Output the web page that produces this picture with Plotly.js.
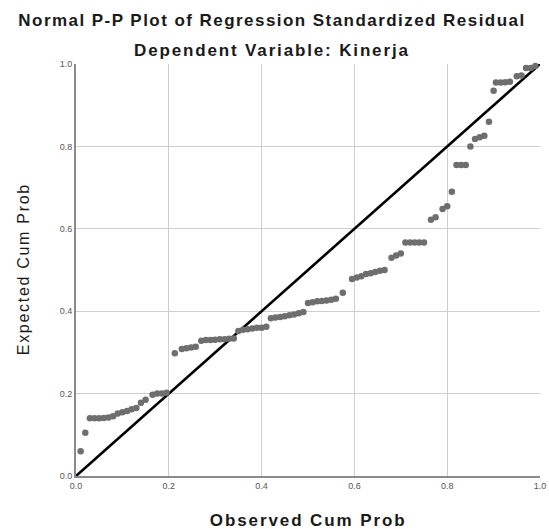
<!DOCTYPE html>
<html>
<head>
<meta charset="utf-8">
<script src="https://cdn.plot.ly/plotly-3.0.1.min.js"></script>
<style>
html,body{margin:0;padding:0;background:#fff;}
.gtitle{letter-spacing:1.45px;}
.annotation.subtitle-ann text{letter-spacing:1.85px;}
.annotation.xt-ann text{letter-spacing:1.9px;}
.annotation.yt-ann text{letter-spacing:1.7px;}
</style>
</head>
<body>
<div id="chart" style="width:549px;height:529px;"></div>
<script>
// Observed cumulative probability (x) and expected cumulative probability (y)
var observedCumProb = [
  0.01, 0.02,
  0.03, 0.04, 0.05, 0.06, 0.07, 0.08,
  0.09, 0.10, 0.11, 0.12, 0.13,
  0.14, 0.15,
  0.165, 0.175, 0.185, 0.195,
  0.213,
  0.228, 0.238, 0.248, 0.258,
  0.27, 0.28, 0.29, 0.30, 0.31, 0.32, 0.33, 0.34,
  0.35, 0.36, 0.37, 0.38, 0.39, 0.40, 0.41,
  0.42, 0.43, 0.44, 0.45, 0.46, 0.47, 0.48, 0.49,
  0.50, 0.51, 0.52, 0.53, 0.54, 0.55, 0.56,
  0.575,
  0.595, 0.605, 0.615, 0.625, 0.635, 0.645, 0.655, 0.665,
  0.68, 0.69, 0.70,
  0.71, 0.72, 0.73, 0.74, 0.75,
  0.765, 0.775,
  0.79, 0.80,
  0.81,
  0.82, 0.83, 0.84,
  0.85,
  0.86, 0.87, 0.88,
  0.89,
  0.90,
  0.905, 0.915, 0.925, 0.935,
  0.95, 0.96,
  0.97, 0.98, 0.99
];
var expectedCumProb = [
  0.06, 0.105,
  0.14, 0.14, 0.14, 0.141, 0.142, 0.145,
  0.152, 0.155, 0.158, 0.162, 0.165,
  0.178, 0.185,
  0.197, 0.2, 0.2, 0.202,
  0.298,
  0.308, 0.31, 0.312, 0.314,
  0.328, 0.33, 0.33, 0.331, 0.332, 0.332, 0.333, 0.334,
  0.352, 0.355, 0.356, 0.358, 0.36, 0.36, 0.362,
  0.383, 0.385, 0.386, 0.388, 0.39, 0.392, 0.395, 0.398,
  0.42, 0.422, 0.424, 0.425, 0.426, 0.428, 0.43,
  0.445,
  0.478, 0.482, 0.485, 0.49, 0.492, 0.495, 0.498, 0.50,
  0.53, 0.535, 0.54,
  0.567, 0.567, 0.567, 0.567, 0.567,
  0.622, 0.628,
  0.648, 0.655,
  0.69,
  0.755, 0.755, 0.755,
  0.80,
  0.818, 0.822, 0.826,
  0.86,
  0.935,
  0.955, 0.955, 0.956, 0.957,
  0.97, 0.972,
  0.99, 0.99, 0.995
];
var refLineX = [0, 1];
var refLineY = [0, 1];
var tickVals = [0, 0.2, 0.4, 0.6, 0.8, 1.0];
var tickText = ["0.0", "0.2", "0.4", "0.6", "0.8", "1.0"];

var font = "Liberation Sans, Arial, sans-serif";

var traces = [
  {
    x: refLineX, y: refLineY, type: "scatter", mode: "lines",
    line: {color: "#000000", width: 2.6},
    hoverinfo: "skip", showlegend: false, cliponaxis: false
  },
  {
    x: observedCumProb, y: expectedCumProb, type: "scatter", mode: "markers",
    marker: {symbol: "circle", size: 6.5, color: "#6e6e6e"},
    showlegend: false, cliponaxis: false
  }
];

var layout = {
  width: 549, height: 529,
  paper_bgcolor: "#ffffff", plot_bgcolor: "#ffffff",
  margin: {l: 76, r: 9, t: 64, b: 53, pad: 0},
  title: {
    text: "<b>Normal P-P Plot of Regression Standardized Residual</b>",
    font: {family: font, size: 17, color: "#1a1a1a"},
    x: 0.4954, xanchor: "center", xref: "container",
    y: 0.963, yanchor: "middle", yref: "container"
  },
  xaxis: {
    range: [0, 1], tickvals: tickVals, ticktext: tickText,
    showgrid: true, gridcolor: "#cfcfcf", gridwidth: 1,
    zeroline: false, showline: true, linecolor: "#8a8a8a", linewidth: 2,
    ticks: "", tickfont: {family: font, size: 9, color: "#555"},
    fixedrange: true
  },
  yaxis: {
    range: [0, 1], tickvals: tickVals, ticktext: tickText,
    showgrid: true, gridcolor: "#cfcfcf", gridwidth: 1,
    zeroline: false, showline: true, linecolor: "#8a8a8a", linewidth: 2,
    ticks: "", tickfont: {family: font, size: 9, color: "#555"},
    fixedrange: true
  },
  annotations: [
    {
      text: "<b>Dependent Variable: Kinerja</b>",
      xref: "paper", yref: "paper", x: 0.422, y: 1.0316,
      xanchor: "center", yanchor: "middle", showarrow: false,
      font: {family: font, size: 17, color: "#1a1a1a"}
    },
    {
      text: "<b>Observed Cum Prob</b>",
      xref: "paper", yref: "paper", x: 0.5, y: -0.109,
      xanchor: "center", yanchor: "middle", showarrow: false,
      font: {family: font, size: 17, color: "#1a1a1a"}
    },
    {
      text: "Expected Cum Prob",
      xref: "paper", yref: "paper", x: -0.113, y: 0.502, textangle: -90,
      xanchor: "center", yanchor: "middle", showarrow: false,
      font: {family: font, size: 16, color: "#1a1a1a"}
    }
  ]
};

Plotly.newPlot("chart", traces, layout, {displayModeBar: false, staticPlot: true}).then(function () {
  var anns = document.querySelectorAll(".annotation");
  var cls = ["subtitle-ann", "xt-ann", "yt-ann"];
  for (var i = 0; i < anns.length && i < cls.length; i++) {
    anns[i].classList.add(cls[i]);
  }
});
</script>
</body>
</html>
